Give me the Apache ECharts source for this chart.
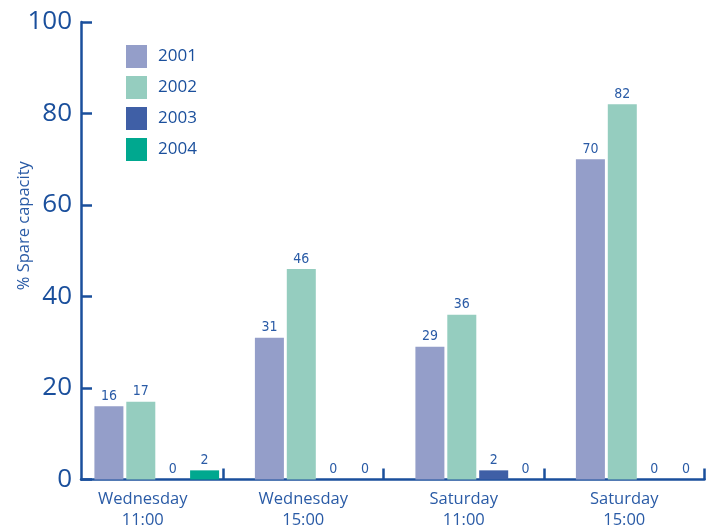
<!DOCTYPE html>
<html>
<head>
<meta charset="utf-8">
<script src="https://cdn.jsdelivr.net/npm/echarts@6/dist/echarts.min.js"></script>
<style>
  html, body { margin: 0; padding: 0; background: #fff; }
  #chart { width: 715px; height: 529px; }
</style>
</head>
<body>
<div id="chart"></div>
<script>
// data
const categories = ['Wednesday\n11:00', 'Wednesday\n15:00', 'Saturday\n11:00', 'Saturday\n15:00']
const years = ['2001', '2002', '2003', '2004']
const values2001 = [16, 31, 29, 70]
const values2002 = [17, 46, 36, 82]
const values2003 = [0, 0, 2, 0]
const values2004 = [2, 0, 0, 0]
const yTicks = [0, 20, 40, 60, 80, 100]

const colors = ['#949ec9', '#95cdbf', '#3f5fa6', '#00a88f']
const axisBlue = '#1a4f9c'
const textBlue = '#2a5ba6'

const chart = echarts.init(document.getElementById('chart'))

const gridTop = 22
const gridBottom = 49.5
const yMin = yTicks[0]
const yMax = yTicks[yTicks.length - 1]
const yStep = yTicks[1] - yTicks[0]

const makeSeries = (name, data, i) => ({
  name,
  type: 'bar',
  xAxisIndex: 1,
  yAxisIndex: 1,
  data,
  barWidth: 29,
  barGap: '10%',
  itemStyle: { color: colors[i] },
  label: {
    show: true,
    position: 'top',
    distance: 3,
    color: textBlue,
    fontSize: 14,
    fontFamily: '"Liberation Sans Narrow", "DejaVu Sans Condensed", sans-serif'
  }
})

chart.setOption({
  animation: false,
  color: colors,
  legend: {
    data: years,
    orient: 'vertical',
    left: 121,
    top: 40,
    itemWidth: 21,
    itemHeight: 23,
    itemGap: 8,
    icon: 'rect',
    textStyle: {
      color: axisBlue,
      fontSize: 17,
      fontFamily: '"Open Sans", sans-serif',
      padding: [0, 0, 0, 6]
    }
  },
  grid: [
    // category ticks + labels
    { left: 62.5, right: 10.5, top: gridTop, bottom: gridBottom, outerBoundsMode: 'none' },
    // bars
    { left: 76.5, width: 642, top: gridTop, bottom: gridBottom, outerBoundsMode: 'none' },
    // axis lines + y labels
    { left: 81, right: 10.5, top: gridTop, bottom: gridBottom, outerBoundsMode: 'none' }
  ],
  xAxis: [
    {
      gridIndex: 0,
      type: 'category',
      data: categories,
      boundaryGap: true,
      axisLine: { show: false },
      axisTick: {
        show: true,
        inside: true,
        length: 11,
        interval: (idx) => idx !== 0,
        lineStyle: { color: axisBlue, width: 2.5 }
      },
      axisLabel: {
        margin: 9,
        color: textBlue,
        fontSize: 16.5,
        lineHeight: 21,
        fontFamily: '"Open Sans", sans-serif'
      }
    },
    {
      gridIndex: 1,
      type: 'category',
      data: categories,
      show: false
    },
    {
      gridIndex: 2,
      type: 'category',
      data: categories,
      axisLine: { show: true, lineStyle: { color: axisBlue, width: 2.5 } },
      axisTick: { show: false },
      axisLabel: { show: false }
    }
  ],
  yAxis: [
    { gridIndex: 0, type: 'value', min: yMin, max: yMax, interval: yStep, show: false },
    { gridIndex: 1, type: 'value', min: yMin, max: yMax, interval: yStep, show: false },
    {
      gridIndex: 2,
      type: 'value',
      min: yMin,
      max: yMax,
      interval: yStep,
      name: '% Spare capacity',
      nameLocation: 'middle',
      nameRotate: 90,
      nameGap: 48,
      nameMoveOverlap: false,
      nameTextStyle: {
        color: textBlue,
        fontSize: 16.5,
        fontFamily: '"Open Sans", sans-serif',
        padding: [0, 0, 0, 50]
      },
      axisLine: { show: true, lineStyle: { color: axisBlue, width: 2.5 } },
      axisTick: { show: true, inside: true, length: 11, lineStyle: { color: axisBlue, width: 2.5 } },
      splitLine: { show: false },
      axisLabel: {
        margin: 9,
        color: axisBlue,
        fontSize: 26,
        fontFamily: '"Open Sans", sans-serif'
      }
    }
  ],
  series: [
    makeSeries(years[0], values2001, 0),
    makeSeries(years[1], values2002, 1),
    makeSeries(years[2], values2003, 2),
    makeSeries(years[3], values2004, 3)
  ]
})
</script>
</body>
</html>
